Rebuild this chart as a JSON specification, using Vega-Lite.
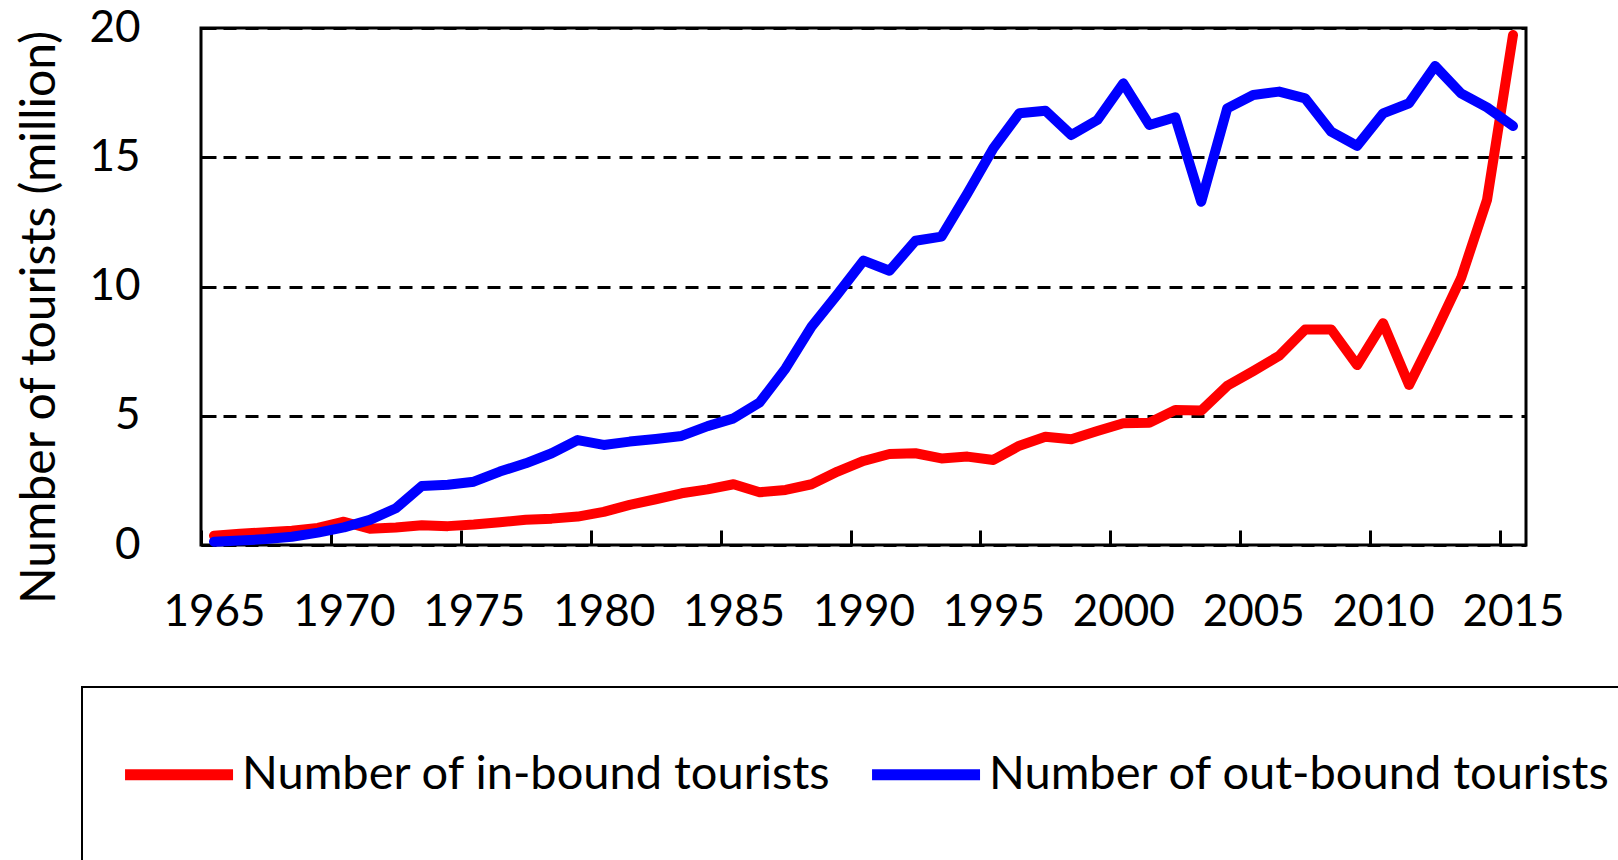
{
  "$schema": "https://vega.github.io/schema/vega-lite/v6.json",
  "autosize": {"type": "none"},
  "padding": {"left": 201, "top": 28, "right": 92, "bottom": 315},
  "width": 1325,
  "height": 517,
  "config": {
    "view": {"stroke": "black", "strokeWidth": 3},
    "font": "Lato",
    "legend": {"strokeWidth": 2}
  },
  "datasets": {
    "tourists": [
      {"year": 1965, "inbound": 0.36, "outbound": 0.13},
      {"year": 1966, "inbound": 0.44, "outbound": 0.17},
      {"year": 1967, "inbound": 0.49, "outbound": 0.23},
      {"year": 1968, "inbound": 0.55, "outbound": 0.32},
      {"year": 1969, "inbound": 0.66, "outbound": 0.48},
      {"year": 1970, "inbound": 0.90, "outbound": 0.68},
      {"year": 1971, "inbound": 0.63, "outbound": 0.97},
      {"year": 1972, "inbound": 0.68, "outbound": 1.42},
      {"year": 1973, "inbound": 0.76, "outbound": 2.28},
      {"year": 1974, "inbound": 0.73, "outbound": 2.33},
      {"year": 1975, "inbound": 0.79, "outbound": 2.45},
      {"year": 1976, "inbound": 0.88, "outbound": 2.84},
      {"year": 1977, "inbound": 0.98, "outbound": 3.16},
      {"year": 1978, "inbound": 1.02, "outbound": 3.55},
      {"year": 1979, "inbound": 1.10, "outbound": 4.06},
      {"year": 1980, "inbound": 1.28, "outbound": 3.87},
      {"year": 1981, "inbound": 1.55, "outbound": 4.00},
      {"year": 1982, "inbound": 1.77, "outbound": 4.10},
      {"year": 1983, "inbound": 2.00, "outbound": 4.22},
      {"year": 1984, "inbound": 2.15, "outbound": 4.60},
      {"year": 1985, "inbound": 2.35, "outbound": 4.90},
      {"year": 1986, "inbound": 2.04, "outbound": 5.51},
      {"year": 1987, "inbound": 2.13, "outbound": 6.83},
      {"year": 1988, "inbound": 2.35, "outbound": 8.45},
      {"year": 1989, "inbound": 2.84, "outbound": 9.70},
      {"year": 1990, "inbound": 3.25, "outbound": 11.00},
      {"year": 1991, "inbound": 3.52, "outbound": 10.61},
      {"year": 1992, "inbound": 3.55, "outbound": 11.77},
      {"year": 1993, "inbound": 3.35, "outbound": 11.93},
      {"year": 1994, "inbound": 3.42, "outbound": 13.60},
      {"year": 1995, "inbound": 3.29, "outbound": 15.35},
      {"year": 1996, "inbound": 3.84, "outbound": 16.70},
      {"year": 1997, "inbound": 4.19, "outbound": 16.80},
      {"year": 1998, "inbound": 4.09, "outbound": 15.86},
      {"year": 1999, "inbound": 4.41, "outbound": 16.44},
      {"year": 2000, "inbound": 4.71, "outbound": 17.86},
      {"year": 2001, "inbound": 4.73, "outbound": 16.25},
      {"year": 2002, "inbound": 5.22, "outbound": 16.55},
      {"year": 2003, "inbound": 5.20, "outbound": 13.28},
      {"year": 2004, "inbound": 6.16, "outbound": 16.89},
      {"year": 2005, "inbound": 6.73, "outbound": 17.41},
      {"year": 2006, "inbound": 7.32, "outbound": 17.54},
      {"year": 2007, "inbound": 8.34, "outbound": 17.28},
      {"year": 2008, "inbound": 8.34, "outbound": 15.99},
      {"year": 2009, "inbound": 6.96, "outbound": 15.44},
      {"year": 2010, "inbound": 8.58, "outbound": 16.70},
      {"year": 2011, "inbound": 6.19, "outbound": 17.09},
      {"year": 2012, "inbound": 8.20, "outbound": 18.53},
      {"year": 2013, "inbound": 10.32, "outbound": 17.47},
      {"year": 2014, "inbound": 13.35, "outbound": 16.93},
      {"year": 2015, "inbound": 19.73, "outbound": 16.21}
    ]
  },
  "data": {"name": "tourists"},
  "transform": [
    {"fold": ["inbound", "outbound"], "as": ["key", "value"]},
    {"calculate": "datum.key === 'inbound' ? 'Number of in-bound tourists' : 'Number of out-bound tourists'", "as": "series"}
  ],
  "mark": {"type": "line", "strokeWidth": 10, "strokeJoin": "round", "strokeCap": "round"},
  "encoding": {
    "x": {
      "field": "year",
      "type": "quantitative",
      "scale": {"domain": [1964.5, 2015.5], "nice": false, "zero": false},
      "axis": {
        "title": null,
        "values": [1965, 1970, 1975, 1980, 1985, 1990, 1995, 2000, 2005, 2010, 2015],
        "format": "d",
        "domain": false,
        "grid": false,
        "ticks": true,
        "tickSize": -15,
        "tickWidth": 3,
        "tickColor": "black",
        "tickOffset": -13,
        "labelOffset": 13,
        "labelPadding": 60,
        "labelFontSize": 44,
        "labelColor": "black",
        "labelFont": "Lato",
        "labelFlush": false,
        "labelOverlap": false
      }
    },
    "y": {
      "field": "value",
      "type": "quantitative",
      "scale": {"domain": [0, 20], "nice": false},
      "axis": {
        "title": "Number of tourists (million)",
        "values": [0, 5, 10, 15, 20],
        "domain": false,
        "grid": true,
        "gridColor": "black",
        "gridDash": [13, 9],
        "gridWidth": 3,
        "gridOpacity": 1,
        "ticks": true,
        "tickSize": -15,
        "tickWidth": 3,
        "tickColor": "black",
        "labelPadding": 76,
        "labelFontSize": 44,
        "labelColor": "black",
        "labelFont": "Lato",
        "labelFontWeight": "normal",
        "titleFont": "Lato",
        "titleFontSize": 48,
        "titleFontWeight": "normal",
        "titleColor": "black",
        "titleX": -161,
        "titleY": 289,
        "titleBaseline": "middle"
      }
    },
    "color": {
      "field": "series",
      "type": "nominal",
      "scale": {
        "domain": ["Number of in-bound tourists", "Number of out-bound tourists"],
        "range": ["#ff0000", "#0000ff"]
      },
      "legend": {
        "title": null,
        "orient": "none",
        "legendX": -119,
        "legendY": 659,
        "direction": "horizontal",
        "symbolType": "M-2.47,0H3.53",
        "symbolSize": 1296,
        "symbolStrokeWidth": 11,
        "symbolFillColor": "transparent",
        "labelFontSize": 47,
        "labelFont": "Lato",
        "labelColor": "black",
        "labelLimit": 1000,
        "labelOffset": 49,
        "columnPadding": 18,
        "padding": 64,
        "strokeColor": "black"
      }
    }
  }
}
